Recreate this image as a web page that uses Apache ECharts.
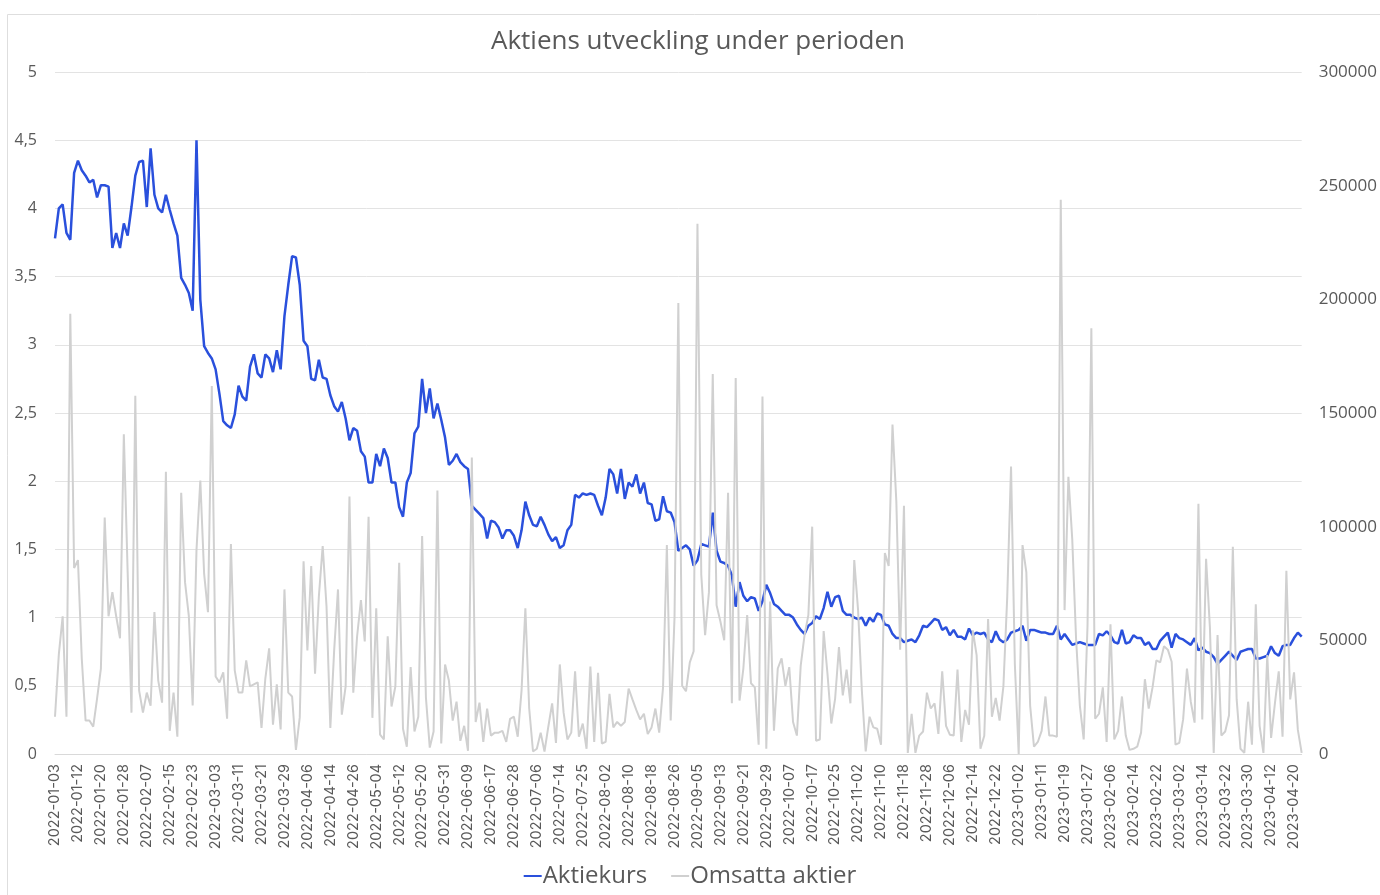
<!DOCTYPE html>
<html>
<head>
<meta charset="utf-8">
<title>Aktiens utveckling under perioden</title>
<script src="https://cdn.jsdelivr.net/npm/echarts@6/dist/echarts.min.js"></script>
<style>
  html, body { margin: 0; padding: 0; background: #fff; }
  #chart { width: 1380px; height: 895px; }
</style>
</head>
<body>
<div id="chart"></div>
<script>
// trading calendar: weekdays from start to end, minus exchange holidays and days without trades
const startDate = '2022-01-03';
const endDate = '2023-04-24';
const closedDays = ['2022-01-06', '2022-04-15', '2022-04-18', '2022-05-26', '2022-06-06', '2022-06-24',
  '2022-12-26', '2023-01-06', '2023-04-07', '2023-04-10'];
const noTradeDays = ['2022-07-19', '2023-03-08', '2023-03-09', '2023-04-05'];

// Aktiekurs (SEK), one value per trading day
const aktiekurs = [
  3.78, 4.00, 4.03, 3.82, 3.77, 4.26, 4.35, 4.28, 4.24, 4.19, 4.21, 4.08, 4.17, 4.17, 4.16, 3.71, 3.82, 3.71, 3.89, 3.80,
  4.01, 4.24, 4.34, 4.35, 4.01, 4.44, 4.10, 4.00, 3.97, 4.10, 3.99, 3.89, 3.80, 3.49, 3.44, 3.38, 3.25, 4.50, 3.33, 2.99,
  2.94, 2.90, 2.82, 2.64, 2.44, 2.41, 2.39, 2.49, 2.70, 2.62, 2.59, 2.84, 2.93, 2.79, 2.76, 2.93, 2.90, 2.80, 2.96, 2.82,
  3.21, 3.44, 3.65, 3.64, 3.44, 3.03, 2.99, 2.75, 2.74, 2.89, 2.76, 2.75, 2.63, 2.55, 2.51, 2.58, 2.46, 2.30, 2.39, 2.37,
  2.22, 2.18, 1.99, 1.99, 2.20, 2.11, 2.24, 2.17, 1.99, 1.99, 1.81, 1.74, 1.99, 2.06, 2.35, 2.40, 2.75, 2.50, 2.68, 2.46,
  2.57, 2.45, 2.32, 2.12, 2.15, 2.20, 2.14, 2.11, 2.09, 1.82, 1.79, 1.76, 1.73, 1.58, 1.71, 1.70, 1.66, 1.58, 1.64, 1.64,
  1.60, 1.51, 1.64, 1.85, 1.75, 1.68, 1.67, 1.74, 1.68, 1.61, 1.56, 1.59, 1.51, 1.53, 1.64, 1.68, 1.90, 1.88, 1.91, 1.90,
  1.91, 1.90, 1.82, 1.75, 1.88, 2.09, 2.05, 1.91, 2.09, 1.87, 1.99, 1.96, 2.05, 1.91, 1.99, 1.84, 1.83, 1.71, 1.72, 1.89,
  1.78, 1.77, 1.70, 1.49, 1.51, 1.53, 1.50, 1.38, 1.42, 1.54, 1.53, 1.52, 1.77, 1.49, 1.41, 1.40, 1.38, 1.31, 1.08, 1.26,
  1.16, 1.12, 1.15, 1.14, 1.05, 1.12, 1.24, 1.18, 1.10, 1.08, 1.05, 1.02, 1.02, 1.00, 0.95, 0.91, 0.88, 0.94, 0.96, 1.01,
  0.99, 1.07, 1.19, 1.08, 1.15, 1.16, 1.05, 1.02, 1.02, 1.00, 0.99, 1.00, 0.94, 1.00, 0.97, 1.03, 1.02, 0.95, 0.94, 0.88,
  0.85, 0.85, 0.82, 0.83, 0.84, 0.82, 0.87, 0.94, 0.93, 0.96, 0.99, 0.98, 0.91, 0.93, 0.87, 0.91, 0.86, 0.86, 0.84, 0.92,
  0.87, 0.89, 0.88, 0.89, 0.84, 0.82, 0.90, 0.84, 0.82, 0.84, 0.89, 0.90, 0.91, 0.94, 0.83, 0.91, 0.91, 0.90, 0.89, 0.89,
  0.88, 0.88, 0.94, 0.84, 0.88, 0.84, 0.80, 0.81, 0.82, 0.81, 0.80, 0.80, 0.80, 0.88, 0.87, 0.90, 0.87, 0.82, 0.81, 0.91,
  0.81, 0.82, 0.87, 0.85, 0.85, 0.80, 0.82, 0.77, 0.77, 0.83, 0.86, 0.89, 0.78, 0.88, 0.85, 0.84, 0.82, 0.80, 0.85, 0.76,
  0.78, 0.75, 0.74, 0.71, 0.66, 0.69, 0.72, 0.75, 0.72, 0.69, 0.75, 0.76, 0.77, 0.77, 0.70, 0.70, 0.71, 0.72, 0.79, 0.74,
  0.72, 0.79, 0.80, 0.80, 0.85, 0.89, 0.86
];

// Omsatta aktier (antal), one value per trading day
const omsattaAktier = [
  16400, 43800, 60600, 16400, 193700, 81800, 85300, 42000, 14700, 14700, 12000, 24400, 37600, 104000, 60600, 71200, 60600, 50900, 140600, 80000,
  18200, 157600, 27900, 18200, 27000, 21200, 62400, 32300, 22600, 124200, 10200, 27000, 7600, 114900, 75600, 60600, 21400, 89800, 120300, 79200,
  62400, 161900, 34100, 31500, 35900, 15500, 92400, 36800, 27000, 27000, 41200, 29700, 30600, 31500, 11500, 33200, 46500, 12900, 30600, 10800,
  72400, 27000, 25300, 1800, 16100, 84800, 45600, 82700, 35300, 69400, 91500, 65000, 11500, 45600, 72400, 17300, 29700, 113300, 27000, 51800,
  67700, 49500, 104300, 15900, 64100, 8500, 6400, 51800, 20900, 29700, 84100, 11100, 3200, 38200, 9900, 16400, 95900, 24700, 2800, 9900,
  115900, 4600, 39400, 32300, 14700, 23000, 5800, 12400, 1400, 130400, 14100, 22600, 5300, 20000, 8100, 9400, 9400, 10200, 5300, 15500,
  16400, 7600, 27900, 64100, 20000, 1100, 2300, 9400, 1100, 12000, 22300, 4900, 39400, 18200, 6400, 9400, 36400, 7600, 13400, 2300,
  38500, 5300, 35700, 4600, 5300, 26500, 11700, 14100, 12400, 14100, 28800, 24000, 19400, 15200, 17700, 8800, 11700, 20000, 9400, 29300,
  91900, 14700, 60000, 198400, 30000, 27600, 40300, 45200, 233200, 78800, 52300, 71200, 167200, 65400, 58300, 50000, 114900, 22300, 165400, 23500,
  37600, 61100, 31100, 29300, 4100, 157300, 2300, 67100, 10200, 37600, 42100, 30000, 38200, 14100, 8100, 38900, 52300, 61100, 100000, 5800,
  6400, 54100, 35300, 13400, 24400, 47000, 25800, 37100, 22300, 85300, 63300, 27600, 1100, 16400, 11700, 11100, 4100, 88400, 82700, 144900,
  111300, 45900, 109200, 500, 17700, 500, 8100, 9900, 27000, 20000, 22300, 8800, 36400, 12400, 8500, 8100, 37100, 5300, 19400, 12900,
  54400, 43500, 2300, 8000, 59400, 16400, 24700, 14700, 29700, 68900, 126500, 39400, 0, 91900, 80000, 21200, 3200, 5300, 10200, 25300,
  8100, 8100, 7600, 243800, 63300, 121900, 94700, 50900, 21200, 6400, 56500, 187300, 15500, 17700, 29300, 5300, 57100, 6400, 10200, 25300,
  8100, 1800, 2300, 3200, 9400, 32900, 20000, 29300, 41200, 40300, 47400, 45900, 40600, 4100, 4900, 15200, 37600, 23000, 13800, 110100,
  15200, 85900, 55800, 500, 52300, 8100, 9900, 17000, 91200, 24000, 2300, 500, 23000, 4100, 65900, 12400, 500, 43500, 7100, 22300,
  36400, 7600, 80600, 24000, 35900, 10600, 500
];

function tradingDays(from, to) {
  const skip = new Set(closedDays.concat(noTradeDays));
  const out = [];
  const d = new Date(from + 'T00:00:00Z');
  const end = new Date(to + 'T00:00:00Z');
  while (d <= end) {
    const wd = d.getUTCDay();
    const s = d.toISOString().slice(0, 10);
    if (wd !== 0 && wd !== 6 && !skip.has(s)) out.push(s);
    d.setUTCDate(d.getUTCDate() + 1);
  }
  return out;
}

const datum = tradingDays(startDate, endDate);

const textGrey = '#595959';
const chart = echarts.init(document.getElementById('chart'));

chart.setOption({
  animation: false,
  backgroundColor: '#fff',
  graphic: [{
    type: 'rect',
    shape: { x: 7.5, y: 14.5, width: 1380, height: 900 },
    style: { fill: 'none', stroke: '#dedede', lineWidth: 1 },
    silent: true
  }],
  title: {
    text: 'Aktiens utveckling under perioden',
    left: 486,
    top: 24,
    textStyle: { color: textGrey, fontFamily: 'Open Sans', fontSize: 26, fontWeight: 'normal' }
  },
  legend: {
    top: 859,
    left: 'center',
    icon: 'rect',
    itemWidth: 18,
    itemHeight: 2,
    itemGap: 24,
    textStyle: { color: textGrey, fontFamily: 'Open Sans', fontSize: 24, padding: [0, 0, 0, -4] },
    data: ['Aktiekurs', 'Omsatta aktier']
  },
  grid: { left: 55, right: 78, top: 72, bottom: 141, containLabel: false },
  xAxis: {
    type: 'category',
    data: datum,
    boundaryGap: false,
    axisLine: { lineStyle: { color: '#d9d9d9' } },
    axisTick: { show: false },
    axisLabel: {
      interval: 5,
      rotate: 90,
      margin: 10,
      color: textGrey,
      fontFamily: 'Inter',
      fontSize: 14.5
    }
  },
  yAxis: [{
    type: 'value',
    min: 0,
    max: 5,
    interval: 0.5,
    axisLine: { show: false },
    axisTick: { show: false },
    splitLine: { lineStyle: { color: '#e3e3e3' } },
    axisLabel: {
      margin: 18,
      color: textGrey,
      fontFamily: 'Open Sans',
      fontSize: 16,
      formatter: v => String(v).replace('.', ',')
    }
  }, {
    type: 'value',
    min: 0,
    max: 300000,
    interval: 50000,
    axisLine: { show: false },
    axisTick: { show: false },
    splitLine: { show: false },
    axisLabel: {
      margin: 17,
      color: textGrey,
      fontFamily: 'Open Sans',
      fontSize: 17,
      formatter: v => String(v)
    }
  }],
  series: [{
    name: 'Aktiekurs',
    type: 'line',
    yAxisIndex: 0,
    data: aktiekurs,
    showSymbol: false,
    symbol: 'none',
    itemStyle: { color: '#2a50dc' },
    lineStyle: { color: '#2a50dc', width: 2.5 }
  }, {
    name: 'Omsatta aktier',
    type: 'line',
    yAxisIndex: 1,
    data: omsattaAktier,
    showSymbol: false,
    symbol: 'none',
    itemStyle: { color: '#d0d0d0' },
    lineStyle: { color: '#d0d0d0', width: 2 }
  }]
});

window.addEventListener('resize', () => chart.resize());
</script>
</body>
</html>
